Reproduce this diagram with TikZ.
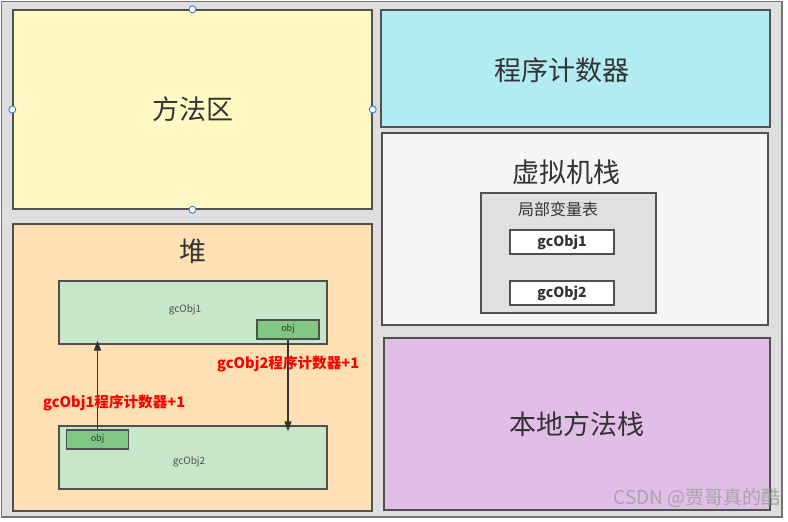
\documentclass[tikz,border=0pt]{standalone}
\usepackage{fontspec}
\setmainfont{Noto Sans CJK SC}
\usepackage{tikz}
\usetikzlibrary{arrows.meta,positioning,calc}
\usepackage{xcolor}
\definecolor{framegray}{RGB}{222,222,222}
\definecolor{edgegray}{RGB}{80,80,80}
\definecolor{titlegray}{RGB}{51,51,51}
\definecolor{areayellow}{RGB}{255,249,196}
\definecolor{areacyan}{RGB}{178,235,242}
\definecolor{areawhite}{RGB}{245,245,245}
\definecolor{areagray}{RGB}{224,224,224}
\definecolor{areapurple}{RGB}{225,190,231}
\definecolor{areaorange}{RGB}{255,224,178}
\definecolor{objgreen}{RGB}{200,230,201}
\definecolor{refgreen}{RGB}{129,199,132}
\definecolor{handleblue}{RGB}{45,130,230}
\tikzset{
    area/.style={draw=edgegray, line width=1.4pt, fill=#1, inner sep=0pt,
                 font=\fontsize{27}{30}\selectfont, text=titlegray},
    title/.style={inner sep=0pt, font=\fontsize{27}{30}\selectfont, text=titlegray},
    slot/.style={draw=edgegray, line width=1.3pt, fill=white, inner sep=0pt,
                 minimum width=104pt, minimum height=24pt,
                 font=\fontsize{14}{16}\selectfont\bfseries, text=titlegray},
    heapobj/.style={draw=edgegray, line width=1.3pt, fill=objgreen, inner sep=0pt,
                    minimum width=268pt, minimum height=63pt},
    ref/.style={draw=edgegray, line width=1.3pt, fill=refgreen, inner sep=0pt,
                minimum width=62pt, minimum height=19pt,
                font=\fontsize{9}{10}\selectfont, text=titlegray},
    small/.style={inner sep=0pt, font=\fontsize{10}{12}\selectfont, text=edgegray},
    note/.style={inner sep=0pt, font=\fontsize{14.6}{16}\selectfont\bfseries, text=red},
    handle/.style={circle, draw=handleblue, fill=white, line width=0.9pt,
                   minimum size=7pt, inner sep=0pt},
}

\begin{document}
\begin{tikzpicture}[
    x=1pt, y=-1pt,
    arr/.style={-{Triangle[length=10pt, width=7pt]}, line width=1.6pt, draw=titlegray}
]
    \useasboundingbox (0,0) rectangle (788,522);
    \draw[fill=framegray, draw=edgegray!80, line width=1.6pt] (1.5,1.5) rectangle (782,517);

    \node[area=areayellow, minimum width=359pt, minimum height=199pt] (method) at (192.5,109.5) {方法区};
    \node[area=areacyan, minimum width=389pt, minimum height=117pt] (pc) at (575.5,68.5) {};
    \node[title] (pctitle) at (562,70) {程序计数器};
    \node[area=areawhite, minimum width=386pt, minimum height=192pt] (vmstack) at (575,229) {};
    \node[title] (vmtitle) at (566,172) {虚拟机栈};
    \node[area=areagray, minimum width=175pt, minimum height=120pt] (locals) at (568.5,253) {};
    \node[inner sep=0pt, font=\fontsize{16}{18}\selectfont, text=titlegray] (localstitle) at (558,209) {局部变量表};
    \node[slot] (var1) at (562,242) {gcObj1};
    \node[slot] (var2) at (562,293) {gcObj2};
    \node[area=areapurple, minimum width=386pt, minimum height=172pt] (native) at (577,424) {本地方法栈};

    \node[area=areaorange, minimum width=359pt, minimum height=287pt] (heap) at (192.5,367.5) {};
    \node[title] (heaptitle) at (193,251) {堆};
    \node[heapobj] (obj1) at (193,312.5) {};
    \node[small] (obj1label) at (185,310) {gcObj1};
    \node[ref] (ref1) at (288,329.5) {obj};
    \node[heapobj] (obj2) at (193,457.5) {};
    \node[small] (obj2label) at (189,462) {gcObj2};
    \node[ref] (ref2) at (97.5,439.5) {obj};

    \draw[arr, shorten >=-4pt] (ref2.north) -- (obj1.south -| ref2.north);
    \draw[arr, shorten >=-6pt] (ref1.south) -- (obj2.north -| ref1.south);
    \node[note, anchor=west] (note1) at (43,403) {gcObj1程序计数器+1};
    \node[note, anchor=west] (note2) at (217,364) {gcObj2程序计数器+1};

    \node[handle] (hn) at (method.north) {};
    \node[handle] (hs) at (method.south) {};
    \node[handle] (hw) at (method.west) {};
    \node[handle] (he) at (method.east) {};

    \node[inner sep=0pt, anchor=east, font=\fontsize{19}{21}\selectfont, text=gray!70] (mark) at (781,498) {CSDN @贾哥真的酷};
\end{tikzpicture}
\end{document}
